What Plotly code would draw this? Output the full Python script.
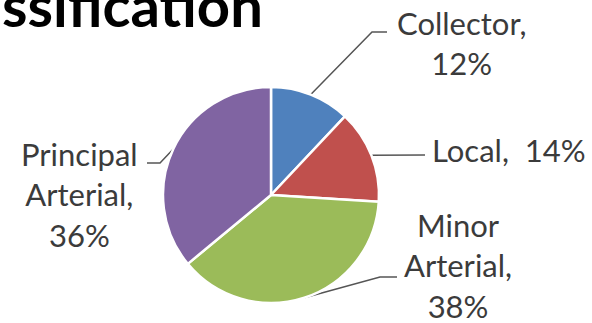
import math
import plotly.graph_objects as go

# ---- data ----
categories = ["Collector", "Local", "Minor Arterial", "Principal Arterial"]
shares = [12, 14, 38, 36]
label_texts = ["Collector,<br>12%", "Local,  14%", "Minor<br>Arterial,<br>38%", "Principal<br>Arterial,<br>36%"]
title_text = "ssification"

# ---- style / layout ----
colors = ["#4F81BD", "#C0504D", "#9BBB59", "#8064A2"]
W, H = 592, 323
CX, CY, R = 271, 195, 108
FONT = "Lato"
TEXT_COLOR = "#3b3b3b"
LINE_COLOR = "#555555"

# leader line bends and label anchors (pixel positions)
bends = [[(372, 32), (387, 32)], [(425, 155)], [(380, 277), (397, 277)], [(160, 163), (147, 163)]]
label_pos = [(461, 43, "center"), (430, 150, "left"), (458, 265, "center"), (79, 194, "center")]

fig = go.Figure()

fig.add_trace(go.Pie(
    labels=categories, values=shares, sort=False, direction="clockwise", rotation=0,
    marker=dict(colors=colors, line=dict(color="white", width=2.5)),
    textinfo="none", hoverinfo="label+percent", showlegend=False,
    domain=dict(x=[(CX - R) / W, (CX + R) / W], y=[1 - (CY + R) / H, 1 - (CY - R) / H]),
))

total = sum(shares)
cum = 0
for i, v in enumerate(shares):
    mid = (cum + v / 2) / total
    cum += v
    th = 2 * math.pi * mid
    sx, sy = CX + R * math.sin(th), CY - R * math.cos(th)
    xs = [sx] + [b[0] for b in bends[i]]
    ys = [sy] + [b[1] for b in bends[i]]
    fig.add_trace(go.Scatter(x=xs, y=ys, mode="lines", line=dict(color=LINE_COLOR, width=1.5),
                             hoverinfo="skip", showlegend=False))
    lx, ly, anc = label_pos[i]
    fig.add_annotation(x=lx, y=ly, xref="x", yref="y", text=label_texts[i], showarrow=False,
                       xanchor=anc, yanchor="middle", align="center",
                       font=dict(family=FONT, size=31, color=TEXT_COLOR))

fig.add_annotation(x=0, y=4, xref="x", yref="y", text="<b>" + title_text + "</b>", showarrow=False,
                   xanchor="left", yanchor="middle", align="left",
                   font=dict(family=FONT, size=58, color="#000000"))

fig.update_layout(
    width=W, height=H, margin=dict(l=0, r=0, t=0, b=0),
    paper_bgcolor="white", plot_bgcolor="rgba(0,0,0,0)",
    xaxis=dict(range=[0, W], visible=False, fixedrange=True, domain=[0, 1]),
    yaxis=dict(range=[H, 0], visible=False, fixedrange=True, domain=[0, 1]),
)

fig.write_html("out.html")
